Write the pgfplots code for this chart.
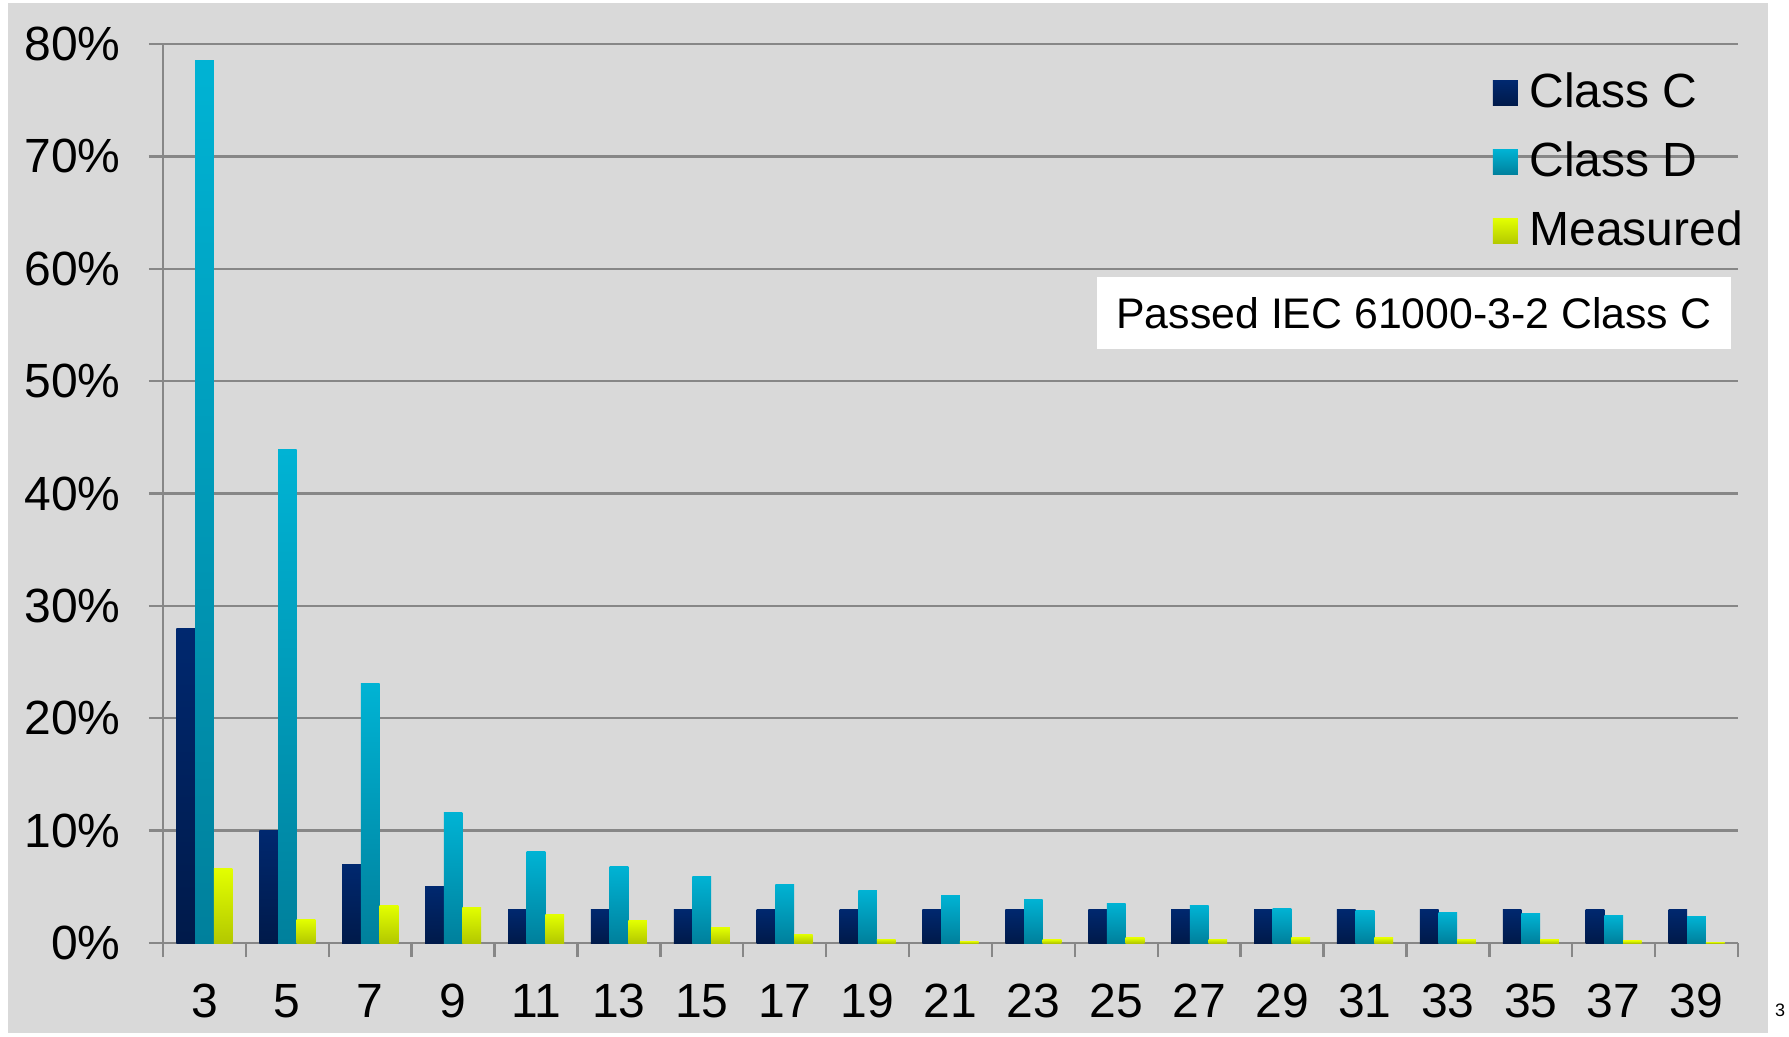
\documentclass[border=0pt]{standalone}
\usepackage{pgfplots}
\pgfplotsset{compat=1.18}
\usepackage{pgfplotstable}
\usepackage{fontspec}
\setmainfont{Liberation Sans}
\definecolor{bg}{HTML}{D9D9D9}
\definecolor{gridc}{HTML}{878787}
\definecolor{cTop}{HTML}{00286F}
\definecolor{cBot}{HTML}{001A4A}
\definecolor{dTop}{HTML}{00B3D4}
\definecolor{dBot}{HTML}{00809C}
\definecolor{mTop}{HTML}{E2FF00}
\definecolor{mBot}{HTML}{B3C800}
\pgfplotstableread{
x C D M
0 28 78.5 6.6
1 10 43.9 2.1
2 7 23.1 3.3
3 5 11.6 3.2
4 3 8.1 2.5
5 3 6.8 2.0
6 3 5.95 1.35
7 3 5.25 0.8
8 3 4.7 0.35
9 3 4.25 0.15
10 3 3.9 0.3
11 3 3.55 0.45
12 3 3.3 0.35
13 3 3.1 0.45
14 3 2.85 0.45
15 3 2.7 0.3
16 3 2.6 0.3
17 3 2.45 0.2
18 3 2.35 0.1
}\data
\begin{document}
\begin{tikzpicture}
\useasboundingbox (0pt,0pt) rectangle (447.25pt,-259.25pt);
\fill[bg] (2pt,-0.75pt) rectangle (442pt,-258.25pt);
\begin{axis}[
  at={(40.75pt,-235.75pt)}, anchor=south west,
  scale only axis, width=393.75pt, height=224.75pt,
  xmin=-0.5, xmax=18.5, ymin=0, ymax=80,
  ybar=0pt, bar width=4.67pt,
  xtick={-0.5,0.5,...,18.5}, x tick label as interval,
  xticklabels={3,5,7,9,11,13,15,17,19,21,23,25,27,29,31,33,35,37,39},
  ytick={0,10,...,80},
  yticklabel={\pgfmathprintnumber{\tick}\%},
  /pgf/number format/assume math mode=true,
  ymajorgrids, grid style={line width=0.6pt, draw=gridc},
  axis lines*=left,
  axis line style={-, draw=gridc, line width=0.6pt},
  tick style={draw=gridc, line width=0.6pt},
  tick align=outside, major tick length=3.5pt,
  tick label style={font=\fontsize{12}{14}\selectfont, text=black},
  yticklabel style={anchor=east, inner sep=0pt, xshift=-6.9pt},
  xticklabel style={anchor=north, inner sep=0pt, yshift=-6.6pt},
  legend image code/.code={\path[#1, draw=none] (0pt,-3.125pt) rectangle (6.25pt,3.125pt);},
  legend cell align=left,
  legend style={at={(axis description cs:0.8438,0.985)}, anchor=north west,
    draw=none, fill=none, inner sep=0pt, row sep=0pt,
    font=\fontsize{12}{14}\selectfont,
    nodes={inner ysep=0pt, inner xsep=1.5pt, minimum height=17.3pt},
    /tikz/every odd column/.append style={column sep=1.4pt}},
]
\addlegendimage{draw=none, top color=cTop, bottom color=cBot}
\addlegendentry{Class C}
\addlegendimage{draw=none, top color=dTop, bottom color=dBot}
\addlegendentry{Class D}
\addlegendimage{draw=none, top color=mTop, bottom color=mBot}
\addlegendentry{Measured}
\pgfplotsinvokeforeach{0,...,18}{
  \addplot[forget plot, draw=none, bar shift=-4.67pt, top color=cTop, bottom color=cBot,
    x filter/.expression={abs(x-#1)<0.1 ? x : nan}] table[x=x, y=C] {\data};
  \addplot[forget plot, draw=none, bar shift=0pt, top color=dTop, bottom color=dBot,
    x filter/.expression={abs(x-#1)<0.1 ? x : nan}] table[x=x, y=D] {\data};
  \addplot[forget plot, draw=none, bar shift=4.67pt, top color=mTop, bottom color=mBot,
    x filter/.expression={abs(x-#1)<0.1 ? x : nan}] table[x=x, y=M] {\data};
}
\end{axis}
\node[fill=white, anchor=north west, minimum width=158.5pt, minimum height=18pt,
  inner sep=0pt, font=\fontsize{10.7}{12}\selectfont] at (274pt,-69pt) {Passed IEC 61000-3-2 Class C};
\node[font=\fontsize{4.5}{5}\selectfont, inner sep=0pt] at (445pt,-252.5pt) {3};
\end{tikzpicture}
\end{document}
